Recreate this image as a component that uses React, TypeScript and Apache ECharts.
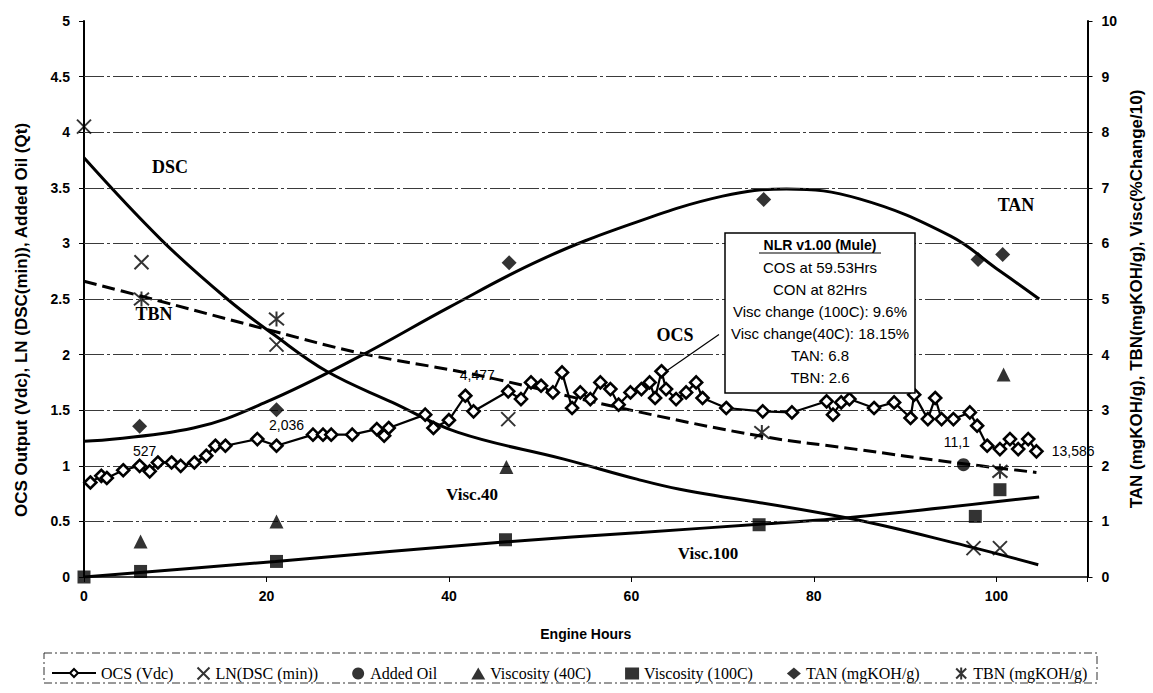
import React, { useEffect, useRef } from "react";
import * as echarts from "echarts";

// ---------- data ----------
const OCS_HOURS = [0.7, 1.9, 2.5, 4.3, 6.1, 7.2, 8.1, 9.6, 10.6, 12.1, 13.4, 14.4, 15.5, 19.0, 21.1, 25.1, 26.2, 27.1, 29.4, 32.1, 32.9, 33.4, 37.4, 38.3, 40.0, 41.8, 42.7, 46.5, 47.9, 49.0, 50.1, 51.4, 52.4, 53.5, 54.4, 55.5, 56.6, 57.7, 58.6, 59.9, 61.1, 62.0, 62.6, 63.3, 63.8, 64.9, 66.0, 67.1, 67.8, 70.4, 74.4, 77.6, 81.4, 82.1, 83.0, 83.9, 86.6, 88.8, 90.6, 91.0, 92.5, 93.3, 94.0, 95.3, 97.1, 97.9, 99.0, 100.4, 101.5, 102.4, 103.5, 104.4];
const OCS_VDC = [0.85, 0.91, 0.89, 0.96, 1.0, 0.95, 1.03, 1.03, 1.0, 1.03, 1.09, 1.18, 1.18, 1.24, 1.18, 1.28, 1.28, 1.28, 1.28, 1.33, 1.27, 1.34, 1.46, 1.34, 1.41, 1.63, 1.49, 1.67, 1.6, 1.75, 1.72, 1.66, 1.84, 1.52, 1.66, 1.6, 1.75, 1.69, 1.55, 1.66, 1.69, 1.75, 1.61, 1.85, 1.69, 1.6, 1.66, 1.75, 1.61, 1.52, 1.49, 1.48, 1.58, 1.46, 1.57, 1.6, 1.52, 1.57, 1.43, 1.64, 1.42, 1.61, 1.42, 1.42, 1.48, 1.36, 1.18, 1.15, 1.24, 1.15, 1.24, 1.13];
const OCS_TAG_INDEX = [5, 14, 25, 50, 66, 71];
const OCS_TAG_TEXT = ["527", "2,036", "4,477", "6,837", "11,1", "13,586"];

const DSC_HOURS = [0, 6.3, 21.1, 46.5, 97.5, 100.4];
const DSC_LN = [4.05, 2.83, 2.09, 1.42, 0.26, 0.26];
const DSC_FIT_HOURS = [0, 8.5, 15.7, 20.8, 26.6, 33.8, 41, 52.6, 60.6, 65.3, 83.7, 96.7, 104.6];
const DSC_FIT = [3.77, 3.03, 2.5, 2.18, 1.85, 1.57, 1.3, 1.06, 0.88, 0.79, 0.53, 0.28, 0.11];

const OIL_HOURS = [96.4];
const OIL_QT = [1.01];

const V40_HOURS = [6.2, 21.1, 46.3, 100.8];
const V40_VALS = [0.64, 1.0, 1.98, 3.64];

const V100_HOURS = [0, 6.2, 21.1, 46.2, 74, 97.7, 100.4];
const V100_VALS = [0, 0.1, 0.28, 0.67, 0.94, 1.09, 1.57];
const V100_FIT_HOURS = [0, 21, 46, 61, 74, 84, 104.7];
const V100_FIT = [0, 0.28, 0.63, 0.8, 0.95, 1.07, 1.44];

const TAN_HOURS = [6.1, 21.1, 46.6, 74.5, 98, 100.7];
const TAN_VALS = [2.71, 3.01, 5.65, 6.79, 5.71, 5.8];
const TAN_FIT_HOURS = [0, 12, 20, 30, 40, 50, 60, 70, 77, 85, 95, 100, 104.7];
const TAN_FIT = [2.44, 2.68, 3.15, 3.95, 4.85, 5.7, 6.35, 6.85, 6.98, 6.8, 6.13, 5.55, 5.0];

const TBN_HOURS = [6.3, 21.1, 74.3, 100.4];
const TBN_VALS = [5.0, 4.64, 2.6, 1.9];
const TBN_FIT_HOURS = [0, 6.3, 20.8, 30.2, 41, 45.4, 59.1, 74.3, 84.5, 95.3, 104.4];
const TBN_FIT = [5.32, 5.05, 4.42, 4.03, 3.7, 3.55, 3.03, 2.53, 2.3, 2.06, 1.88];

const GRID_LEVELS = [0.5, 1, 1.5, 2, 2.5, 3, 3.5, 4, 4.5];

const LEFT_TITLE = "OCS Output (Vdc), LN (DSC(min)), Added Oil (Qt)";
const RIGHT_TITLE = "TAN (mgKOH/g), TBN(mgKOH/g), Visc(%Change/10)";
const BOX_TITLE = "NLR v1.00 (Mule)";
const BOX_LINES = ["COS at 59.53Hrs", "CON at 82Hrs", "Visc change (100C): 9.6%", "Visc change(40C): 18.15%", "TAN: 6.8", "TBN: 2.6"];
const LEGEND_NAMES = ["LN(DSC (min))", "Added Oil", "Viscosity (40C)", "Viscosity (100C)", "TAN (mgKOH/g)", "TBN (mgKOH/g)"];

const pairs = (xs: number[], ys: number[]) => xs.map((x, i) => [x, ys[i]]);

const X_PATH = "path://M0,0L10,10M10,0L0,10";
const STAR_PATH = "path://M0,0L10,10M10,0L0,10M5,-1L5,11";

const SANS = "'Liberation Sans', Arial, sans-serif";
const SERIF = "'Liberation Serif', 'Times New Roman', serif";

export default function App() {
  const ref = useRef<HTMLDivElement>(null);
  useEffect(() => {
    document.body.style.margin = "0";
    const chart = echarts.init(ref.current!, undefined, { renderer: "svg" });

    const ocsData = OCS_HOURS.map((x, i) => {
      const k = OCS_TAG_INDEX.indexOf(i);
      if (k < 0) return [x, OCS_VDC[i]];
      const pos = k === 4 ? "left" : k === 5 ? "right" : "top";
      const offsets = [[-5, 0], [10, 0], [12, 0], [0, -6], [-4, -4], [2, 0]];
      return {
        value: [x, OCS_VDC[i]],
        label: {
          show: true,
          formatter: OCS_TAG_TEXT[k],
          position: pos,
          offset: offsets[k],
          distance: 6,
          color: "#000",
          fontFamily: SANS,
          fontSize: 14,
        },
      };
    });

    const lineBase = { type: "line", showSymbol: false, symbol: "none", silent: true, z: 3 };
    const labelFont = { fontFamily: SERIF, fontWeight: "bold", fontSize: 18, fill: "#000" };

    const txt = (text: string, x: number, y: number, size = 18) => ({
      type: "text",
      x,
      y,
      z: 50,
      style: { ...labelFont, fontSize: size, text, align: "center", verticalAlign: "middle" },
    });

    const boxX = 725, boxY = 233, boxW = 190, boxH = 160;
    const axisTitle = { fontFamily: SANS, fontWeight: "bold", fontSize: 17, color: "#000" };
    const tickFont = { fontFamily: SANS, fontWeight: "bold", fontSize: 14, color: "#000" };

    chart.setOption({
      animation: false,
      backgroundColor: "#fff",
      grid: { left: 84, right: 54, top: 21, bottom: 116, containLabel: false },
      xAxis: {
        type: "value",
        min: 0,
        max: 110,
        interval: 20,
        name: "Engine Hours",
        nameLocation: "middle",
        nameGap: 50,
        nameTextStyle: { fontFamily: SANS, fontWeight: "bold", fontSize: 14, color: "#000" },
        axisLine: { show: true, onZero: false, lineStyle: { color: "#000", width: 1.5 } },
        axisTick: { show: true, inside: false, length: 5, lineStyle: { color: "#000" } },
        axisLabel: {
          ...tickFont,
          formatter: (v: number) => (v > 100 ? "" : String(v)),
          margin: 12,
        },
        splitLine: { show: false },
      },
      yAxis: [
        {
          type: "value",
          min: 0,
          max: 5,
          interval: 0.5,
          axisLine: { show: true, lineStyle: { color: "#000", width: 2 } },
          axisTick: { show: true, length: 5, lineStyle: { color: "#000" } },
          axisLabel: { ...tickFont, margin: 14 },
          splitLine: { show: false },
        },
        {
          type: "value",
          min: 0,
          max: 10,
          interval: 1,
          position: "right",
          name: RIGHT_TITLE,
          nameLocation: "middle",
          nameRotate: 90,
          nameGap: 38,
          nameTextStyle: axisTitle,
          axisLine: { show: true, lineStyle: { color: "#000", width: 2 } },
          axisTick: { show: true, length: 5, lineStyle: { color: "#000" } },
          axisLabel: { ...tickFont, margin: 14 },
          splitLine: { show: false },
        },
      ],
      legend: [
        {
          data: ["OCS (Vdc)"],
          left: 46,
          top: 660,
          itemWidth: 44,
          itemHeight: 10,
          textStyle: { fontFamily: SERIF, fontSize: 16, color: "#000" },
        },
        {
          data: LEGEND_NAMES,
          left: 190,
          top: 660,
          itemWidth: 14,
          itemHeight: 12,
          itemGap: 34,
          textStyle: { fontFamily: SERIF, fontSize: 16, color: "#000" },
        },
      ],
      graphic: [
        {
          type: "rect",
          shape: { x: 44, y: 653, width: 1053, height: 30 },
          style: { fill: "none", stroke: "#333", lineWidth: 1, lineDash: [8, 3, 2, 3] },
          z: 1,
          silent: true,
        },
        {
          type: "text",
          x: 21,
          y: 320,
          rotation: Math.PI / 2,
          z: 50,
          style: { text: LEFT_TITLE, font: `bold 17px ${SANS}`, fill: "#000", align: "center", verticalAlign: "middle" },
        },
        txt("DSC", 170, 167),
        txt("TBN", 154, 314),
        txt("OCS", 675, 335),
        txt("Visc.40", 472, 494, 17),
        txt("Visc.100", 708, 553, 17),
        txt("TAN", 1016, 205),
        {
          type: "rect",
          z: 40,
          shape: { x: boxX, y: boxY, width: boxW, height: boxH },
          style: { fill: "#fff", stroke: "#000", lineWidth: 1.5 },
        },
        {
          type: "text",
          z: 41,
          x: boxX + boxW / 2,
          y: 245,
          style: { text: BOX_TITLE, font: `bold 14px ${SANS}`, fill: "#000", align: "center", verticalAlign: "middle" },
        },
        {
          type: "line",
          z: 41,
          shape: { x1: boxX + boxW / 2 - 61, y1: 253, x2: boxX + boxW / 2 + 61, y2: 253 },
          style: { stroke: "#000", lineWidth: 1.2 },
        },
        ...BOX_LINES.map((t, i) => ({
          type: "text",
          z: 41,
          x: boxX + boxW / 2,
          y: 267 + i * 22,
          style: { text: t, font: `15px ${SANS}`, fill: "#000", align: "center", verticalAlign: "middle" },
        })),
      ],
      series: [
        {
          name: "grid",
          type: "line",
          data: [],
          z: 1,
          silent: true,
          markLine: {
            silent: true,
            symbol: "none",
            label: { show: false },
            lineStyle: { color: "#3a3a3a", width: 1.2, type: [20, 3, 3, 3] },
            data: GRID_LEVELS.map((v) => ({ yAxis: v })),
          },
        },
        {
          name: "OCS (Vdc)",
          type: "line",
          data: ocsData,
          symbol: "diamond",
          symbolSize: 12,
          showAllSymbol: true,
          lineStyle: { color: "#000", width: 2.2 },
          itemStyle: { color: "#fff", borderColor: "#000", borderWidth: 2.6 },
          z: 6,
          markLine: {
            silent: true,
            symbol: "none",
            label: { show: false },
            lineStyle: { color: "#000", width: 1.2, type: "solid" },
            data: [[{ coord: [63.6, 1.84] }, { coord: [69.6, 2.18] }]],
          },
        },
        {
          ...lineBase,
          name: "DSC fit",
          data: pairs(DSC_FIT_HOURS, DSC_FIT),
          smooth: 0.4,
          lineStyle: { color: "#000", width: 3 },
        },
        {
          name: "LN(DSC (min))",
          type: "scatter",
          data: pairs(DSC_HOURS, DSC_LN),
          symbol: X_PATH,
          symbolSize: 14,
          itemStyle: { color: "none", borderColor: "#000", borderWidth: 2 },
          z: 7,
        },
        {
          name: "Added Oil",
          type: "scatter",
          data: pairs(OIL_HOURS, OIL_QT),
          symbol: "circle",
          symbolSize: 13,
          itemStyle: { color: "#000" },
          z: 7,
        },
        {
          name: "Viscosity (40C)",
          type: "scatter",
          yAxisIndex: 1,
          data: pairs(V40_HOURS, V40_VALS),
          symbol: "triangle",
          symbolSize: 14,
          itemStyle: { color: "#000" },
          z: 7,
        },
        {
          ...lineBase,
          name: "Visc100 fit",
          yAxisIndex: 1,
          data: pairs(V100_FIT_HOURS, V100_FIT),
          smooth: 0.3,
          lineStyle: { color: "#000", width: 3 },
        },
        {
          name: "Viscosity (100C)",
          type: "scatter",
          yAxisIndex: 1,
          data: pairs(V100_HOURS, V100_VALS),
          symbol: "rect",
          symbolSize: 13,
          itemStyle: { color: "#000" },
          z: 7,
        },
        {
          ...lineBase,
          name: "TAN fit",
          yAxisIndex: 1,
          data: pairs(TAN_FIT_HOURS, TAN_FIT),
          smooth: 0.4,
          lineStyle: { color: "#000", width: 3 },
        },
        {
          name: "TAN (mgKOH/g)",
          type: "scatter",
          yAxisIndex: 1,
          data: pairs(TAN_HOURS, TAN_VALS),
          symbol: "diamond",
          symbolSize: 15,
          itemStyle: { color: "#000" },
          z: 7,
        },
        {
          ...lineBase,
          name: "TBN fit",
          yAxisIndex: 1,
          data: pairs(TBN_FIT_HOURS, TBN_FIT),
          smooth: 0.4,
          lineStyle: { color: "#000", width: 3, type: [13, 6] },
        },
        {
          name: "TBN (mgKOH/g)",
          type: "scatter",
          yAxisIndex: 1,
          data: pairs(TBN_HOURS, TBN_VALS),
          symbol: STAR_PATH,
          symbolSize: 15,
          itemStyle: { color: "none", borderColor: "#000", borderWidth: 2 },
          z: 7,
        },
      ],
    });
    return () => chart.dispose();
  }, []);
  return <div ref={ref} style={{ width: 1153, height: 693 }} />;
}
